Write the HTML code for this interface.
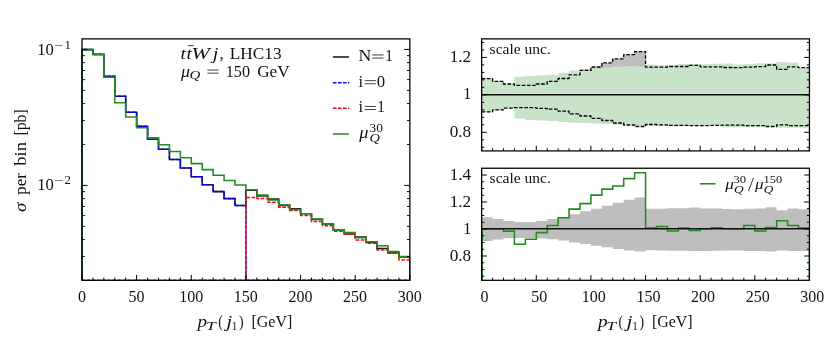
<!DOCTYPE html>
<html><head><meta charset="utf-8"><title>ttWj pT(j1)</title>
<style>html,body{margin:0;padding:0;background:#fff;}svg{display:block;will-change:transform;transform:translateZ(0);}text{font-family:"Liberation Serif",serif;fill:#111;}.i{font-style:italic;}</style></head><body>
<svg width="830" height="345" viewBox="0 0 830 345">
<rect width="830" height="345" fill="#fff"/>
<defs>
<clipPath id="cl"><rect x="81.25" y="38.87" width="328.95" height="242.18"/></clipPath>
<clipPath id="ct"><rect x="481.65" y="38.87" width="327.8" height="112.03"/></clipPath>
<clipPath id="cb"><rect x="480.9" y="168.25" width="328.8" height="112.8"/></clipPath>
</defs>
<g clip-path="url(#cl)" fill="none" stroke-linejoin="miter">
<path d="M82 280.3L82 49.6H92.93V54.4H103.86V76.3H114.78V96.2H125.71V112.2H136.64V126.2H147.57V139.2H158.5V149.3H169.43V159.5H180.36V168H191.28V176.8H202.21V184.7H213.14V191.6H224.07V198.6H235V205.5H245.93V190.3H256.85V196H267.78V199.1H278.71V205.4H289.64V208.7H300.57V213.8H311.5V219.4H322.42V224H333.35V230.1H344.28V234H355.21V237H366.14V242.4H377.07V248.5H387.99V252.8H398.92V256.9H409.85V280.3" stroke="#1c1c1c" stroke-width="1.6"/>
<path d="M82 280.3L82 49.6H92.93V54.4H103.86V76.3H114.78V96.2H125.71V112.2H136.64V126.2H147.57V139.2H158.5V149.3H169.43V159.5H180.36V168H191.28V176.8H202.21V184.7H213.14V191.6H224.07V198.6H235V205.5H245.93V280.3 H409.85" stroke="#0000ff" stroke-width="1.5" stroke-dasharray="3.5 1.55" stroke-linejoin="round"/>
<path d="M82 280.3H245.93V197.5H256.85V198.5H267.78V202.2H278.71V207.2H289.64V210.5H300.57V215.4H311.5V221.4H322.42V225.7H333.35V231.2H344.28V234.3H355.21V239.9H366.14V243.2H377.07V250H387.99V253.3H398.92V259.9H409.85V280.3" stroke="#ff0000" stroke-width="1.5" stroke-dasharray="3.5 1.55" stroke-linejoin="round"/>
<path d="M82 280.3L82 49.6H92.93V54.4H103.86V77.3H114.78V102.8H125.71V117H136.64V127.7H147.57V137.8H158.5V144.8H169.43V151.4H180.36V157.7H191.28V163.6H202.21V169.6H213.14V175.3H224.07V180.4H235V184.9H245.93V189.8H256.85V195H267.78V199.9H278.71V205H289.64V209.5H300.57V213.8H311.5V218.9H322.42V224H333.35V230.1H344.28V232.6H355.21V237.8H366.14V241.8H377.07V245.7H387.99V251.6H398.92V256.4H409.85V280.3" stroke="#228b22" stroke-width="1.55"/>
</g>
<path d="M82 280.3v-5.4M92.93 280.3v-2.7M103.86 280.3v-2.7M114.78 280.3v-2.7M125.71 280.3v-2.7M136.64 280.3v-5.4M147.57 280.3v-2.7M158.5 280.3v-2.7M169.43 280.3v-2.7M180.36 280.3v-2.7M191.28 280.3v-5.4M202.21 280.3v-2.7M213.14 280.3v-2.7M224.07 280.3v-2.7M235 280.3v-2.7M245.93 280.3v-5.4M256.85 280.3v-2.7M267.78 280.3v-2.7M278.71 280.3v-2.7M289.64 280.3v-2.7M300.57 280.3v-5.4M311.5 280.3v-2.7M322.42 280.3v-2.7M333.35 280.3v-2.7M344.28 280.3v-2.7M355.21 280.3v-5.4M366.14 280.3v-2.7M377.07 280.3v-2.7M387.99 280.3v-2.7M398.92 280.3v-2.7M409.85 280.3v-5.4M82 280.46h2.8M409.85 280.46h-2.8M82 256.52h2.8M409.85 256.52h-2.8M82 239.53h2.8M409.85 239.53h-2.8M82 226.35h2.8M409.85 226.35h-2.8M82 215.58h2.8M409.85 215.58h-2.8M82 206.48h2.8M409.85 206.48h-2.8M82 198.6h2.8M409.85 198.6h-2.8M82 191.64h2.8M409.85 191.64h-2.8M82 185.42h5.6M409.85 185.42h-5.6M82 144.49h2.8M409.85 144.49h-2.8M82 120.55h2.8M409.85 120.55h-2.8M82 103.56h2.8M409.85 103.56h-2.8M82 90.38h2.8M409.85 90.38h-2.8M82 79.61h2.8M409.85 79.61h-2.8M82 70.51h2.8M409.85 70.51h-2.8M82 62.63h2.8M409.85 62.63h-2.8M82 55.67h2.8M409.85 55.67h-2.8M82 49.45h5.6M409.85 49.45h-5.6" stroke="#000" stroke-width="1.0" fill="none"/>
<rect x="82" y="38.87" width="327.85" height="241.43" fill="none" stroke="#000" stroke-width="1.27"/>
<text x="81.9" y="301.7" font-size="17.04" text-anchor="middle" textLength="8" lengthAdjust="spacingAndGlyphs">0</text>
<text x="136.54" y="301.7" font-size="17.04" text-anchor="middle" textLength="16" lengthAdjust="spacingAndGlyphs">50</text>
<text x="191.18" y="301.7" font-size="17.04" text-anchor="middle" textLength="24" lengthAdjust="spacingAndGlyphs">100</text>
<text x="245.83" y="301.7" font-size="17.04" text-anchor="middle" textLength="24" lengthAdjust="spacingAndGlyphs">150</text>
<text x="300.47" y="301.7" font-size="17.04" text-anchor="middle" textLength="24" lengthAdjust="spacingAndGlyphs">200</text>
<text x="355.11" y="301.7" font-size="17.04" text-anchor="middle" textLength="24" lengthAdjust="spacingAndGlyphs">250</text>
<text x="409.75" y="301.7" font-size="17.04" text-anchor="middle" textLength="24" lengthAdjust="spacingAndGlyphs">300</text>
<text x="37.2" y="54.8" font-size="17.25" textLength="16.6" lengthAdjust="spacingAndGlyphs">10</text>
<text x="54.2" y="49.2" font-size="11.93" textLength="9.2" lengthAdjust="spacingAndGlyphs">−</text>
<text x="64.4" y="48.6" font-size="11.93" textLength="6.4" lengthAdjust="spacingAndGlyphs">1</text>
<text x="37.2" y="189.9" font-size="17.25" textLength="16.6" lengthAdjust="spacingAndGlyphs">10</text>
<text x="54.2" y="184.3" font-size="11.93" textLength="9.2" lengthAdjust="spacingAndGlyphs">−</text>
<text x="64.4" y="183.7" font-size="11.93" textLength="6.4" lengthAdjust="spacingAndGlyphs">2</text>
<text transform="translate(26.2 211.9) rotate(-90)" font-size="17.04" textLength="9.3" lengthAdjust="spacingAndGlyphs"><tspan class="i">σ</tspan></text>
<text transform="translate(26.2 194.7) rotate(-90)" font-size="17.04" textLength="21.6" lengthAdjust="spacingAndGlyphs">per</text>
<text transform="translate(26.2 165.7) rotate(-90)" font-size="17.04" textLength="23.8" lengthAdjust="spacingAndGlyphs">bin</text>
<text transform="translate(26.2 135.6) rotate(-90)" font-size="17.04" textLength="26.4" lengthAdjust="spacingAndGlyphs">[pb]</text>
<text x="197.5" y="327" font-size="17.57" class="i" textLength="9.6" lengthAdjust="spacingAndGlyphs">p</text>
<text x="205.9" y="330" font-size="12.03" class="i" textLength="9.8" lengthAdjust="spacingAndGlyphs">T</text>
<text x="218.2" y="327" font-size="17.57" textLength="4.6" lengthAdjust="spacingAndGlyphs">(</text>
<text x="226.2" y="327" font-size="17.57" class="i" textLength="6.0" lengthAdjust="spacingAndGlyphs">j</text>
<text x="231.8" y="330" font-size="12.03" textLength="5.6" lengthAdjust="spacingAndGlyphs">1</text>
<text x="239" y="327" font-size="17.57" textLength="4.6" lengthAdjust="spacingAndGlyphs">)</text>
<text x="251.5" y="327" font-size="17.57" textLength="40.8" lengthAdjust="spacingAndGlyphs">[GeV]</text>
<text x="597.9" y="327" font-size="17.57" class="i" textLength="9.6" lengthAdjust="spacingAndGlyphs">p</text>
<text x="606.3" y="330" font-size="12.03" class="i" textLength="9.8" lengthAdjust="spacingAndGlyphs">T</text>
<text x="618.6" y="327" font-size="17.57" textLength="4.6" lengthAdjust="spacingAndGlyphs">(</text>
<text x="626.6" y="327" font-size="17.57" class="i" textLength="6.0" lengthAdjust="spacingAndGlyphs">j</text>
<text x="632.2" y="330" font-size="12.03" textLength="5.6" lengthAdjust="spacingAndGlyphs">1</text>
<text x="639.4" y="327" font-size="17.57" textLength="4.6" lengthAdjust="spacingAndGlyphs">)</text>
<text x="651.9" y="327" font-size="17.57" textLength="40.8" lengthAdjust="spacingAndGlyphs">[GeV]</text>
<text x="180.6" y="58.5" font-size="17.36" class="i" textLength="5.4" lengthAdjust="spacingAndGlyphs">t</text>
<text x="186.4" y="58.5" font-size="17.36" class="i" textLength="5.4" lengthAdjust="spacingAndGlyphs">t</text>
<path d="M187.9 45.6h5.8" stroke="#111" stroke-width="0.8"/>
<text x="191.3" y="58.5" font-size="17.36" class="i" textLength="18.6" lengthAdjust="spacingAndGlyphs">W</text>
<text x="212.7" y="58.5" font-size="17.36" class="i" textLength="5.6" lengthAdjust="spacingAndGlyphs">j</text>
<text x="219.6" y="58.5" font-size="17.36">,</text>
<text x="229.8" y="58.5" font-size="17.36" textLength="51.8" lengthAdjust="spacingAndGlyphs">LHC13</text>
<text x="180.9" y="76.5" font-size="17.36" class="i" textLength="9.0" lengthAdjust="spacingAndGlyphs">μ</text>
<text x="189.6" y="78.7" font-size="12.67" class="i" textLength="10.8" lengthAdjust="spacingAndGlyphs">Q</text>
<path d="M207.4 70.05H218.6M207.4 73.15H218.6" stroke="#111" stroke-width="0.8" fill="none"/>
<text x="225.8" y="76.5" font-size="17.36" textLength="24.2" lengthAdjust="spacingAndGlyphs">150</text>
<text x="257.2" y="76.5" font-size="17.36" textLength="32.4" lengthAdjust="spacingAndGlyphs">GeV</text>
<path d="M332.9 57.0h16.0" stroke="#1c1c1c" stroke-width="1.6"/>
<path d="M332.95 82.65h16.3" stroke="#0000ff" stroke-width="1.5" stroke-dasharray="3.5 1.55" stroke-linejoin="round"/>
<path d="M332.95 108.3h16.3" stroke="#ff0000" stroke-width="1.5" stroke-dasharray="3.5 1.55" stroke-linejoin="round"/>
<path d="M332.9 134.0h16.0" stroke="#228b22" stroke-width="1.55"/>
<text x="358.6" y="60.9" font-size="17.36" textLength="12.8" lengthAdjust="spacingAndGlyphs">N</text>
<path d="M372.2 54.95H383.5M372.2 58.05H383.5" stroke="#111" stroke-width="0.8" fill="none"/>
<text x="385.2" y="60.9" font-size="17.36" textLength="7.6" lengthAdjust="spacingAndGlyphs">1</text>
<text x="358.4" y="86.6" font-size="17.36" textLength="4.6" lengthAdjust="spacingAndGlyphs">i</text>
<path d="M364.7 80.65H375.9M364.7 83.75H375.9" stroke="#111" stroke-width="0.8" fill="none"/>
<text x="376.8" y="86.6" font-size="17.36" textLength="8.4" lengthAdjust="spacingAndGlyphs">0</text>
<text x="358.4" y="112.4" font-size="17.36" textLength="4.6" lengthAdjust="spacingAndGlyphs">i</text>
<path d="M364.7 106.45H375.9M364.7 109.55H375.9" stroke="#111" stroke-width="0.8" fill="none"/>
<text x="377.2" y="112.4" font-size="17.36" textLength="7.6" lengthAdjust="spacingAndGlyphs">1</text>
<text x="359.2" y="137.5" font-size="17.36" class="i" textLength="9.2" lengthAdjust="spacingAndGlyphs">μ</text>
<text x="369.5" y="131.9" font-size="12.25" textLength="13.3" lengthAdjust="spacingAndGlyphs">30</text>
<text x="369.4" y="142.0" font-size="12.67" class="i" textLength="10.4" lengthAdjust="spacingAndGlyphs">Q</text>
<g clip-path="url(#ct)">
<path d="M481.65 78.7H492.58V81.4H503.5V84H514.43V85.4H525.36V85.4H536.28V84H547.21V81.4H558.14V78.5H569.06V74.8H579.99V70.4H590.92V67H601.84V62.8H612.77V58.8H623.7V54.7H634.62V51.6H645.55V67.1H656.48V67.1H667.4V66.5H678.33V66.5H689.26V65.4H700.18V66.8H711.11V66.8H722.04V67.5H732.96V67.7H743.89V67.1H754.82V66.6H765.74V65H776.67V69.3H787.6V66.8H798.52V67.6H808.45V125.6H798.52V125.6H787.6V124.8H776.67V126.5H765.74V125.6H754.82V125.6H743.89V125.1H732.96V125.1H722.04V125.3H711.11V125.6H700.18V125.6H689.26V125.3H678.33V125.3H667.4V124.8H656.48V124.5H645.55V126.5H634.62V125H623.7V123H612.77V120.5H601.84V118.3H590.92V116H579.99V113.9H569.06V111.2H558.14V109.2H547.21V108.3H536.28V107.7H525.36V107.7H514.43V108.1H503.5V109.8H492.58V111.8H481.65Z" fill="#bebebe"/>
<path d="M481.65 78.7H492.58V81.4H503.5V84H514.43V76.7H525.36V75.9H536.28V75.3H547.21V74.7H558.14V72.7H569.06V70.4H579.99V69H590.92V68.2H601.84V67.4H612.77V66.5H623.7V65.9H634.62V66.6H645.55V64.4H656.48V65.2H667.4V65.2H678.33V64.1H689.26V64.1H700.18V64.3H711.11V63.8H722.04V63.6H732.96V64.6H743.89V63.9H754.82V63.2H765.74V63.2H776.67V61.9H787.6V62.8H798.52V67.4H808.45V127.8H798.52V127.8H787.6V127.8H776.67V127.2H765.74V127.2H754.82V127.2H743.89V127.2H732.96V127.2H722.04V126.1H711.11V126.1H700.18V126.1H689.26V126.1H678.33V126.1H667.4V126.1H656.48V125.7H645.55V125.9H634.62V125.3H623.7V124.7H612.77V124.1H601.84V123.6H590.92V123.1H579.99V122.7H569.06V122H558.14V120.9H547.21V120.5H536.28V119.9H525.36V118.5H514.43V108.1H503.5V109.8H492.58V111.8H481.65Z" fill="#c8e3c8"/>
<path d="M481.65 78.7H492.58V81.4H503.5V84H514.43V85.4H525.36V85.4H536.28V84H547.21V81.4H558.14V78.5H569.06V74.8H579.99V70.4H590.92V67H601.84V62.8H612.77V58.8H623.7V54.7H634.62V51.6H645.55V67.1H656.48V67.1H667.4V66.5H678.33V66.5H689.26V65.4H700.18V66.8H711.11V66.8H722.04V67.5H732.96V67.7H743.89V67.1H754.82V66.6H765.74V65H776.67V69.3H787.6V66.8H798.52V67.6H809.45" fill="none" stroke="#000" stroke-width="1.33" stroke-dasharray="3.6 1.6" stroke-linejoin="round"/>
<path d="M481.65 111.8H492.58V109.8H503.5V108.1H514.43V107.7H525.36V107.7H536.28V108.3H547.21V109.2H558.14V111.2H569.06V113.9H579.99V116H590.92V118.3H601.84V120.5H612.77V123H623.7V125H634.62V126.5H645.55V124.5H656.48V124.8H667.4V125.3H678.33V125.3H689.26V125.6H700.18V125.6H711.11V125.3H722.04V125.1H732.96V125.1H743.89V125.6H754.82V125.6H765.74V126.5H776.67V124.8H787.6V125.6H798.52V125.6H809.45" fill="none" stroke="#000" stroke-width="1.33" stroke-dasharray="3.6 1.6" stroke-linejoin="round"/>
<path d="M481.65 94.86H809.45" stroke="#111" stroke-width="1.5"/>
</g>
<g clip-path="url(#cb)">
<path d="M481.65 217.15H492.58V219.09H503.5V220.97H514.43V221.98H525.36V221.98H536.28V220.97H547.21V219.09H558.14V217H569.06V214.33H579.99V211.16H590.92V208.71H601.84V205.68H612.77V202.8H623.7V199.84H634.62V197.6H645.55V208.78H656.48V208.78H667.4V208.35H678.33V208.35H689.26V207.55H700.18V208.56H711.11V208.56H722.04V209.07H732.96V209.21H743.89V208.78H754.82V208.42H765.74V207.27H776.67V210.37H787.6V208.56H798.52V209.14H808.45V250.97H798.52V250.97H787.6V250.39H776.67V251.62H765.74V250.97H754.82V250.97H743.89V250.61H732.96V250.61H722.04V250.75H711.11V250.97H700.18V250.97H689.26V250.75H678.33V250.75H667.4V250.39H656.48V250.18H645.55V251.62H634.62V250.54H623.7V249.09H612.77V247.29H601.84V245.7H590.92V244.05H579.99V242.53H569.06V240.58H558.14V239.14H547.21V238.49H536.28V238.06H525.36V238.06H514.43V238.35H503.5V239.57H492.58V241.02H481.65Z" fill="#bebebe"/>
<path d="M481.65 280.3L481.65 228.8H492.58V228.8H503.5V231.1H514.43V244.3H525.36V239.2H536.28V232.6H547.21V225.5H558.14V217.8H569.06V209.1H579.99V203.6H590.92V195.1H601.84V189.1H612.77V185.9H623.7V178.6H634.62V172.8H645.55V227.9H656.48V226.4H667.4V230.9H678.33V227.9H689.26V230.5H700.18V228.8H711.11V227.7H722.04V228.8H732.96V228.8H743.89V225.4H754.82V230.9H765.74V227.5H776.67V220.8H787.6V225.4H798.52V227.9H809.45V280.3" fill="none" stroke="#228b22" stroke-width="1.55"/>
<path d="M482.05 228.8V280.3" stroke="#228b22" stroke-width="1.55"/>
<path d="M481.65 228.8H809.45" stroke="#111" stroke-width="1.55"/>
</g>
<path d="M481.65 150.9v-5.2M481.65 280.3v-5.2M492.58 150.9v-2.6M492.58 280.3v-2.6M503.5 150.9v-2.6M503.5 280.3v-2.6M514.43 150.9v-2.6M514.43 280.3v-2.6M525.36 150.9v-2.6M525.36 280.3v-2.6M536.28 150.9v-5.2M536.28 280.3v-5.2M547.21 150.9v-2.6M547.21 280.3v-2.6M558.14 150.9v-2.6M558.14 280.3v-2.6M569.06 150.9v-2.6M569.06 280.3v-2.6M579.99 150.9v-2.6M579.99 280.3v-2.6M590.92 150.9v-5.2M590.92 280.3v-5.2M601.84 150.9v-2.6M601.84 280.3v-2.6M612.77 150.9v-2.6M612.77 280.3v-2.6M623.7 150.9v-2.6M623.7 280.3v-2.6M634.62 150.9v-2.6M634.62 280.3v-2.6M645.55 150.9v-5.2M645.55 280.3v-5.2M656.48 150.9v-2.6M656.48 280.3v-2.6M667.4 150.9v-2.6M667.4 280.3v-2.6M678.33 150.9v-2.6M678.33 280.3v-2.6M689.26 150.9v-2.6M689.26 280.3v-2.6M700.18 150.9v-5.2M700.18 280.3v-5.2M711.11 150.9v-2.6M711.11 280.3v-2.6M722.04 150.9v-2.6M722.04 280.3v-2.6M732.96 150.9v-2.6M732.96 280.3v-2.6M743.89 150.9v-2.6M743.89 280.3v-2.6M754.82 150.9v-5.2M754.82 280.3v-5.2M765.74 150.9v-2.6M765.74 280.3v-2.6M776.67 150.9v-2.6M776.67 280.3v-2.6M787.6 150.9v-2.6M787.6 280.3v-2.6M798.52 150.9v-2.6M798.52 280.3v-2.6M809.45 150.9v-5.2M809.45 280.3v-5.2M481.65 147.28h2.6M809.45 147.28h-2.6M481.65 139.79h2.6M809.45 139.79h-2.6M481.65 132.3h5.2M809.45 132.3h-5.2M481.65 124.81h2.6M809.45 124.81h-2.6M481.65 117.32h2.6M809.45 117.32h-2.6M481.65 109.84h2.6M809.45 109.84h-2.6M481.65 102.35h2.6M809.45 102.35h-2.6M481.65 94.86h5.2M809.45 94.86h-5.2M481.65 87.37h2.6M809.45 87.37h-2.6M481.65 79.88h2.6M809.45 79.88h-2.6M481.65 72.4h2.6M809.45 72.4h-2.6M481.65 64.91h2.6M809.45 64.91h-2.6M481.65 57.42h5.2M809.45 57.42h-5.2M481.65 49.93h2.6M809.45 49.93h-2.6M481.65 42.44h2.6M809.45 42.44h-2.6M481.65 276.25h2.6M809.45 276.25h-2.6M481.65 269.5h2.6M809.45 269.5h-2.6M481.65 262.75h2.6M809.45 262.75h-2.6M481.65 256h5.2M809.45 256h-5.2M481.65 249.25h2.6M809.45 249.25h-2.6M481.65 242.5h2.6M809.45 242.5h-2.6M481.65 235.75h2.6M809.45 235.75h-2.6M481.65 229h5.2M809.45 229h-5.2M481.65 222.25h2.6M809.45 222.25h-2.6M481.65 215.5h2.6M809.45 215.5h-2.6M481.65 208.75h2.6M809.45 208.75h-2.6M481.65 202h5.2M809.45 202h-5.2M481.65 195.25h2.6M809.45 195.25h-2.6M481.65 188.5h2.6M809.45 188.5h-2.6M481.65 181.75h2.6M809.45 181.75h-2.6M481.65 175h5.2M809.45 175h-5.2" stroke="#000" stroke-width="1.0" fill="none"/>
<rect x="481.65" y="38.87" width="327.8" height="112.03" fill="none" stroke="#000" stroke-width="1.27"/>
<rect x="481.65" y="168.25" width="327.8" height="112.05" fill="none" stroke="#000" stroke-width="1.27"/>
<text x="484.55" y="301.7" font-size="17.04" text-anchor="middle" textLength="8" lengthAdjust="spacingAndGlyphs">0</text>
<text x="539.18" y="301.7" font-size="17.04" text-anchor="middle" textLength="16" lengthAdjust="spacingAndGlyphs">50</text>
<text x="593.82" y="301.7" font-size="17.04" text-anchor="middle" textLength="24" lengthAdjust="spacingAndGlyphs">100</text>
<text x="648.45" y="301.7" font-size="17.04" text-anchor="middle" textLength="24" lengthAdjust="spacingAndGlyphs">150</text>
<text x="703.08" y="301.7" font-size="17.04" text-anchor="middle" textLength="24" lengthAdjust="spacingAndGlyphs">200</text>
<text x="757.72" y="301.7" font-size="17.04" text-anchor="middle" textLength="24" lengthAdjust="spacingAndGlyphs">250</text>
<text x="812.35" y="301.7" font-size="17.04" text-anchor="middle" textLength="24" lengthAdjust="spacingAndGlyphs">300</text>
<text x="471.2" y="61.82" font-size="17.04" text-anchor="end" textLength="21.5" lengthAdjust="spacingAndGlyphs">1.2</text>
<text x="471.2" y="99.26" font-size="17.04" text-anchor="end" textLength="8" lengthAdjust="spacingAndGlyphs">1</text>
<text x="471.2" y="136.7" font-size="17.04" text-anchor="end" textLength="21.5" lengthAdjust="spacingAndGlyphs">0.8</text>
<text x="471.2" y="179.8" font-size="17.04" text-anchor="end" textLength="21.5" lengthAdjust="spacingAndGlyphs">1.4</text>
<text x="471.2" y="206.8" font-size="17.04" text-anchor="end" textLength="21.5" lengthAdjust="spacingAndGlyphs">1.2</text>
<text x="471.2" y="233.8" font-size="17.04" text-anchor="end" textLength="8" lengthAdjust="spacingAndGlyphs">1</text>
<text x="471.2" y="260.8" font-size="17.04" text-anchor="end" textLength="21.5" lengthAdjust="spacingAndGlyphs">0.8</text>
<text x="489.6" y="53.8" font-size="14.16" textLength="61.2" lengthAdjust="spacingAndGlyphs">scale unc.</text>
<text x="489.6" y="183.2" font-size="14.16" textLength="61.2" lengthAdjust="spacingAndGlyphs">scale unc.</text>
<path d="M699.9 183.8h15.6" stroke="#228b22" stroke-width="1.55"/>
<text x="725.2" y="188.9" font-size="15.55" class="i" textLength="8.6" lengthAdjust="spacingAndGlyphs">μ</text>
<text x="733.4" y="183.2" font-size="10.22" textLength="12.6" lengthAdjust="spacingAndGlyphs">30</text>
<text x="734.0" y="192.6" font-size="10.86" class="i" textLength="9.6" lengthAdjust="spacingAndGlyphs">Q</text>
<path d="M748.4 191.2L753.5 177.8" stroke="#111" stroke-width="0.85"/>
<text x="755.0" y="188.9" font-size="15.55" class="i" textLength="8.6" lengthAdjust="spacingAndGlyphs">μ</text>
<text x="763.6" y="183.2" font-size="10.22" textLength="18.6" lengthAdjust="spacingAndGlyphs">150</text>
<text x="763.8" y="192.6" font-size="10.86" class="i" textLength="9.6" lengthAdjust="spacingAndGlyphs">Q</text>
</svg></body></html>
